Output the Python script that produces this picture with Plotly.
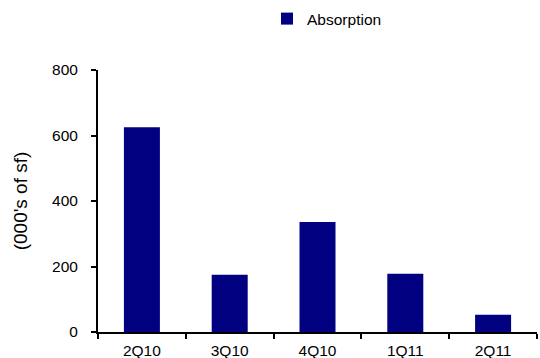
import plotly.graph_objects as go

quarters = ["2Q10", "3Q10", "4Q10", "1Q11", "2Q11"]
absorption = [625, 175, 336, 178, 53]
y_ticks = [0, 200, 400, 600, 800]

fig = go.Figure()
fig.add_trace(go.Bar(
    x=quarters,
    y=absorption,
    name="Absorption",
    marker=dict(color="#000080", line=dict(width=0)),
    width=0.41,
    showlegend=True,
))

font_family = "Liberation Sans, Arial, sans-serif"
fs = 15.5

fig.update_layout(
    template="none",
    width=540,
    height=358,
    margin=dict(l=98, r=3, t=69, b=26),
    paper_bgcolor="white",
    plot_bgcolor="white",
    font=dict(family=font_family, size=fs, color="black"),
    showlegend=True,
    legend=dict(
        orientation="h",
        x=0.385,
        xanchor="left",
        y=1.19,
        yanchor="middle",
        font=dict(family=font_family, size=fs, color="black"),
        bgcolor="rgba(0,0,0,0)",
        borderwidth=0,
    ),
    xaxis=dict(
        automargin=False,
        showline=True,
        linecolor="black",
        linewidth=2,
        ticks="outside",
        ticklen=5,
        tickwidth=1.5,
        tickcolor="black",
        tickson="boundaries",
        showgrid=False,
        zeroline=False,
        ticklabelstandoff=3,
    ),
    yaxis=dict(
        automargin=False,
        range=[0, 800],
        tickvals=y_ticks,
        showline=True,
        linecolor="black",
        linewidth=2,
        ticks="outside",
        ticklen=5,
        tickwidth=1.5,
        tickcolor="black",
        showgrid=False,
        zeroline=False,
        ticklabelstandoff=10,
        title=dict(text="(000's of sf)", standoff=19),
    ),
)

fig.write_html("out.html")
